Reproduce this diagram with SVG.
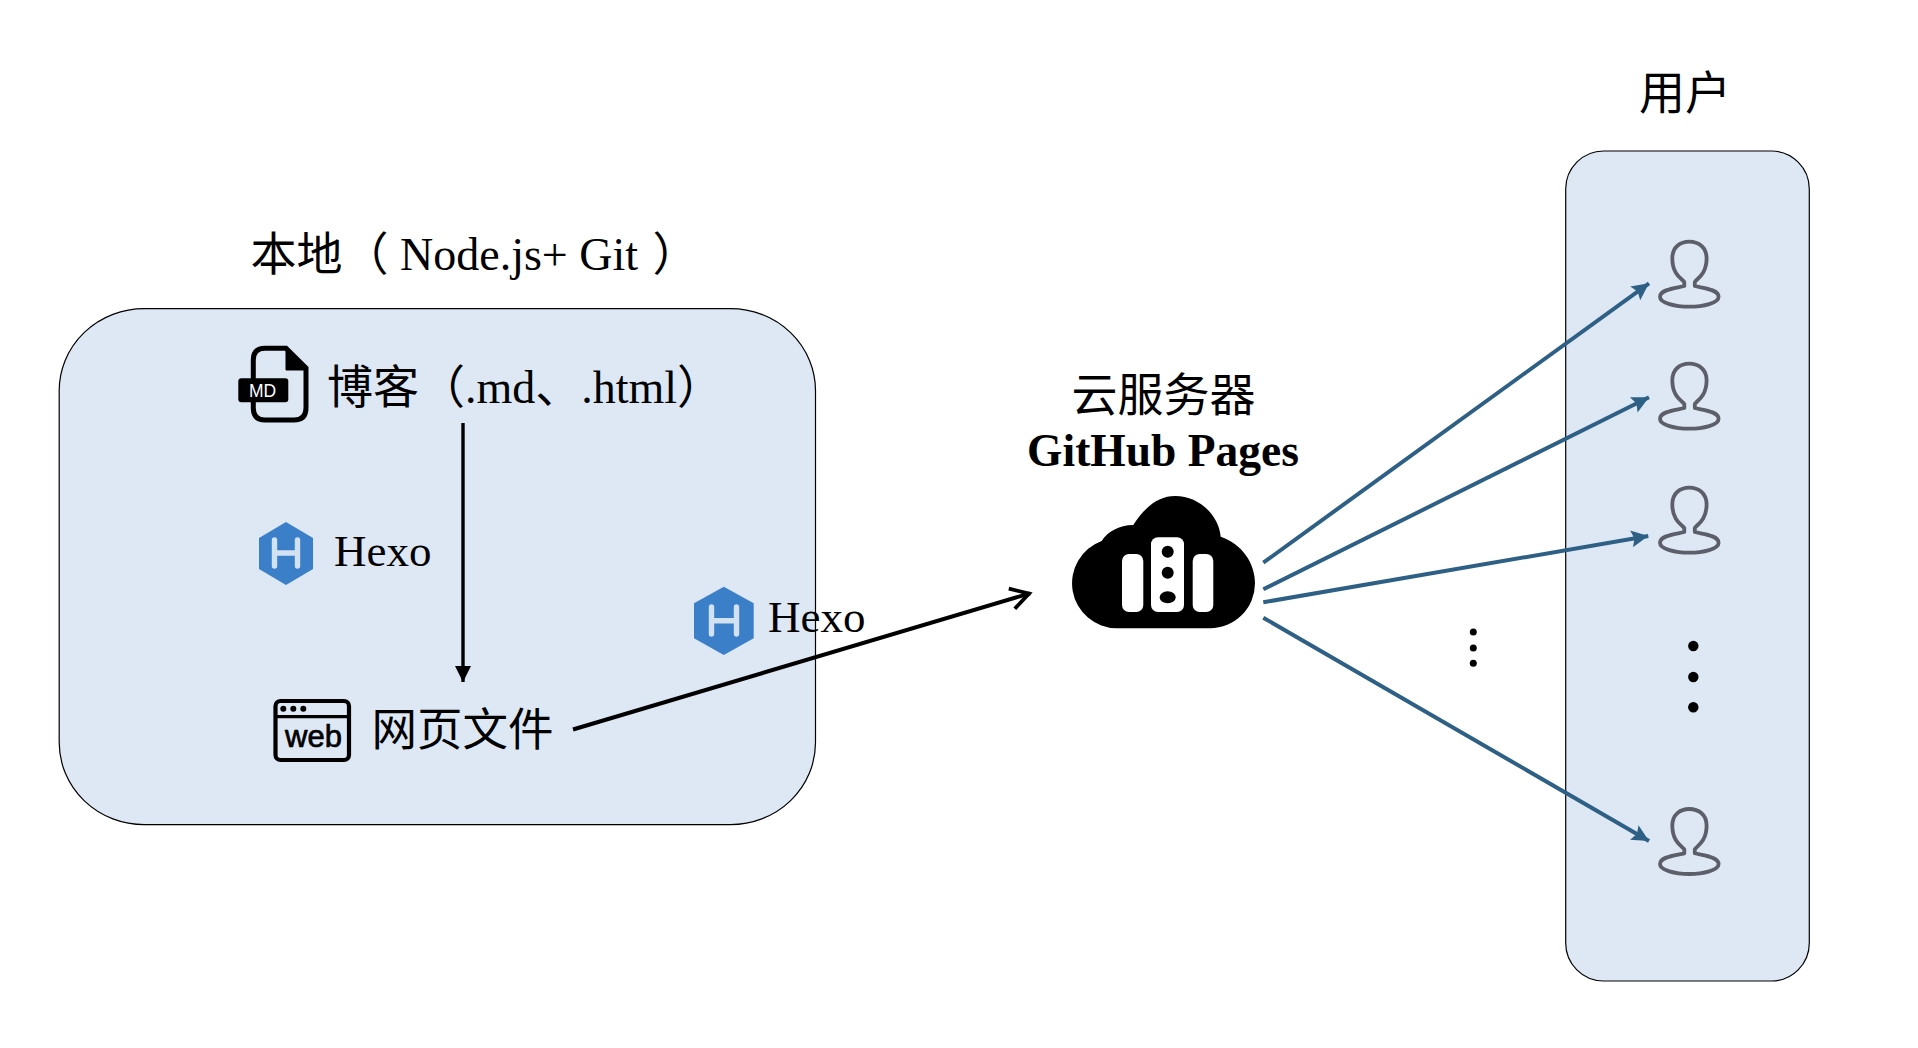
<svg xmlns="http://www.w3.org/2000/svg" xmlns:xlink="http://www.w3.org/1999/xlink" width="1918" height="1048" viewBox="0 0 1918 1048">
<style>
text{font-family:"Liberation Serif","Noto Sans CJK SC",serif;font-size:46px;fill:#000}
.sans{font-family:"Liberation Sans",sans-serif}
.panel{fill:#DEE8F5;stroke:#000;stroke-width:1.2}
.blue{fill:none;stroke:#2E6085;stroke-width:4;marker-end:url(#bluehead)}
.hex{fill:#3B7FC8}
.hexh{fill:none;stroke:#D3E2F3;stroke-width:5.4;stroke-linecap:round}
.user{fill:none;stroke:#5C5E69;stroke-width:3.8;stroke-linejoin:round}
</style>
<defs>
<marker id="bluehead" markerUnits="userSpaceOnUse" viewBox="-1 -10 20 20" refX="17" refY="0" markerWidth="20" markerHeight="20" orient="auto"><path d="M17 0L0-8.5 3 0 0 8.5Z" fill="#2E6085"/></marker>
<marker id="solidhead" markerUnits="userSpaceOnUse" viewBox="-1 -10 20 20" refX="16" refY="0" markerWidth="20" markerHeight="20" orient="auto"><path d="M16 0L0-8 0 8Z" fill="#000"/></marker>
<marker id="openhead" markerUnits="userSpaceOnUse" viewBox="-22 -14 26 28" refX="0" refY="0" markerWidth="26" markerHeight="28" orient="auto"><path d="M-19-10.5L-1 0-19 10.5" fill="none" stroke="#000" stroke-width="3.8"/></marker>
<path id="usershape" class="user" d="M-5 45C-12 47-29.3 48-29.3 55.7C-29.3 62-14 65.7 0 65.7C14 65.7 29.3 62 29.3 55.7C29.3 48 12 47 5.5 45L5.5 41C7 38 17.3 34 17.3 17.3C17.3 6 9 .7 0 .7C-9 .7-17 6-17 17.3C-17 34-7 38-5 41Z"/>
</defs>
<g id="local-panel">
<rect class="panel" x="59.2" y="308.6" width="756.3" height="516" rx="85" ry="82"/>
<text x="250.5" y="269.5">本地（ Node.js+ Git <tspan dx="3">）</tspan></text>
</g>
<g id="users-panel">
<rect class="panel" x="1565.7" y="151" width="243.6" height="830" rx="38" ry="38"/>
<text x="1639" y="108.5">用户</text>
</g>
<g id="blog-node">
<path d="M253.3 366V360Q253.3 348.3 265 348.3H286L306 368V408Q306 420 294 420H265Q253.3 420 253.3 408V366" fill="none" stroke="#000" stroke-width="5"/>
<path d="M286 350V370H305Z" fill="#000" stroke="#000" stroke-width="1"/>
<rect x="238.3" y="378.3" width="50" height="24" rx="3" fill="#000"/>
<text class="sans" x="249" y="396.7" style="font-size:17.5px;fill:#fff">MD</text>
<text x="327" y="403">博客（.md、.html）</text>
</g>
<g id="hexo-local">
<path class="hex" d="M286 522L313 538V569L286 585 259 569V538Z"/>
<path class="hexh" d="M274.5 540V566M297.5 540V566M274.5 553H297.5"/>
<text x="334" y="566" style="font-size:45px">Hexo</text>
</g>
<g id="hexo-deploy">
<path class="hex" d="M723.8 586.7L753.7 603.3V638.3L723.8 655 694 638.3V603.3Z"/>
<path class="hexh" d="M711.5 607V634M736.5 607V634M711.5 620.7H736.5"/>
<text x="768" y="632.3" style="font-size:45px">Hexo</text>
</g>
<g id="web-node">
<rect x="275.5" y="701" width="73.5" height="59" rx="5" fill="none" stroke="#000" stroke-width="4.2"/>
<path d="M276 716.7H348.7" stroke="#000" stroke-width="3.2"/>
<circle cx="283.3" cy="708.7" r="3"/><circle cx="293.3" cy="708.7" r="3"/><circle cx="303.3" cy="708.7" r="3"/>
<text class="sans" x="285" y="746.7" style="font-size:31px;stroke:#000;stroke-width:.7">web</text>
<text x="371.5" y="746" style="font-size:45.5px">网页文件</text>
</g>
<g id="cloud-node">
<text x="1071.5" y="411">云服务器</text>
<text x="1163" y="466" text-anchor="middle" style="font-weight:700;font-size:45.5px">GitHub Pages</text>
<path d="M1116.7 628.3A45 45 0 0 1 1101.7 541C1107 532 1119 525 1133.3 525C1146 505 1160 496 1175 496C1200 496 1219 516 1220.7 536.7C1242 544 1255 563 1255 583.3A45 45 0 0 1 1210 628.3Z" fill="#000"/>
<rect x="1122" y="554" width="21.3" height="58" rx="7" fill="#fff"/>
<rect x="1151" y="537.3" width="33" height="74.7" rx="7" fill="#fff"/>
<rect x="1192.7" y="554" width="20.6" height="58" rx="7" fill="#fff"/>
<circle cx="1167.7" cy="551.7" r="6"/><circle cx="1167.7" cy="572.7" r="6"/><ellipse cx="1167.7" cy="597.3" rx="8" ry="6"/>
</g>
<g id="user-1"><use href="#usershape" x="1689.3" y="241"/></g>
<g id="user-2"><use href="#usershape" x="1689.3" y="363"/></g>
<g id="user-3"><use href="#usershape" x="1689.3" y="487"/></g>
<g id="user-4"><use href="#usershape" x="1689.3" y="808.3"/></g>
<g id="ellipsis-middle"><circle cx="1473.3" cy="632" r="3.5"/><circle cx="1473.3" cy="648" r="3.5"/><circle cx="1473.3" cy="663.3" r="3.5"/></g>
<g id="ellipsis-users"><circle cx="1693.3" cy="646" r="5.2"/><circle cx="1693.3" cy="677" r="5.2"/><circle cx="1693.3" cy="707.3" r="5.2"/></g>
<g id="connectors">
<path d="M463 423V682" fill="none" stroke="#000" stroke-width="3.4" marker-end="url(#solidhead)"/>
<path d="M573 729.5L1030 593.3" fill="none" stroke="#000" stroke-width="4" marker-end="url(#openhead)"/>
<path class="blue" d="M1263.3 562.7L1649 283.3"/>
<path class="blue" d="M1263.3 589.3L1649 397.3"/>
<path class="blue" d="M1263.3 602.3L1648.3 536"/>
<path class="blue" d="M1263.3 617.7L1649 841"/>
</g>
</svg>
